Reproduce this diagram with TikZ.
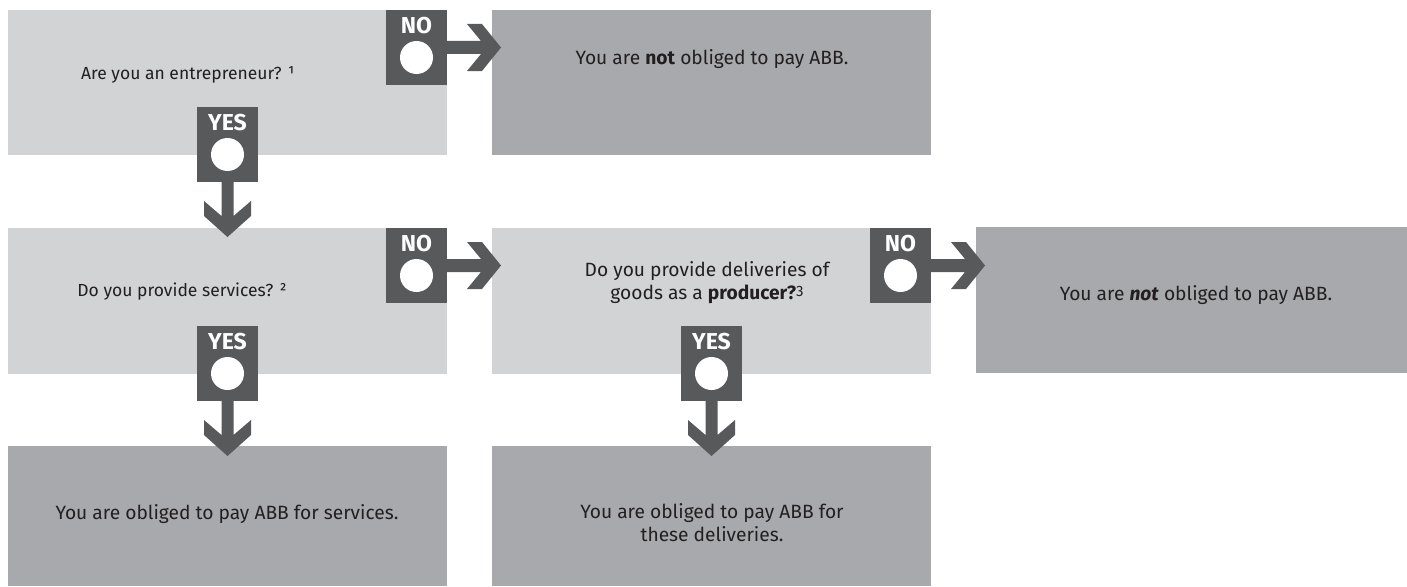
\documentclass[tikz,border=0pt]{standalone}
\usepackage{fontspec}
\setmainfont{Fira Sans}
\usetikzlibrary{calc}
\definecolor{boxlight}{HTML}{D1D3D4}
\definecolor{boxdark}{HTML}{A7A9AC}
\definecolor{badgecol}{HTML}{58595B}
\definecolor{txtcol}{HTML}{231F20}
\newcommand{\harrow}[1]{\fill[badgecol, shift={(#1.east)}] (0,6.5) -- (34,6.5) -- (20,23.5) -- (35,23.5) -- (54,0) -- (35,-23.5) -- (20,-23.5) -- (34,-6.5) -- (0,-6.5) -- cycle;}
\newcommand{\varrow}[1]{\fill[badgecol, shift={(#1.south)}] (-6,0) -- (-6,34) -- (-23.5,19) -- (-23.5,34) -- (0,55) -- (23.5,34) -- (23.5,19) -- (6,34) -- (6,0) -- cycle;}
\begin{document}
\begin{tikzpicture}[x=1pt,y=-1pt,
  lbox/.style={fill=boxlight, draw=none, anchor=north west, inner sep=0pt, outer sep=0pt},
  dbox/.style={fill=boxdark, draw=none, anchor=north west, inner sep=0pt, outer sep=0pt},
  badge/.style={fill=badgecol, draw=none, minimum width=61pt, minimum height=75pt, inner sep=0pt, outer sep=0pt},
  btxt/.style={text=white, font=\fontsize{23}{24}\selectfont\bfseries, anchor=base, inner sep=0pt},
  dot/.style={circle, fill=white, draw=none, minimum size=33pt, inner sep=0pt},
  ttxt/.style={text=txtcol, font=\fontsize{19.2}{23}\selectfont, inner sep=0pt, align=center},
  stxt/.style={text=txtcol, font=\fontsize{17.5}{21}\selectfont, inner sep=0pt, align=center}
]
\useasboundingbox (0,0) rectangle (1407,586);
% boxes
\node[lbox, minimum width=439pt, minimum height=145pt] (b1) at (8,10) {};
\node[dbox, minimum width=439pt, minimum height=145pt] (b2) at (492,10) {};
\node[lbox, minimum width=439pt, minimum height=146pt] (b3) at (8,228) {};
\node[lbox, minimum width=439pt, minimum height=146pt] (b4) at (492,228) {};
\node[dbox, minimum width=431pt, minimum height=146pt] (b5) at (976,227) {};
\node[dbox, minimum width=439pt, minimum height=140pt] (b6) at (8,446) {};
\node[dbox, minimum width=439pt, minimum height=140pt] (b7) at (492,446) {};
% texts
\node[stxt, anchor=base] (t1) at (188,79) {Are you an entrepreneur? ¹};
\node[ttxt, anchor=base] (t2) at (712,65) {You are \textbf{not} obliged to pay ABB.};
\node[stxt, anchor=base] (t3) at (182,296) {Do you provide services? ²};
\node[ttxt] (t4) at (707,283) {Do you provide deliveries of\\goods as a \textbf{producer?}{\fontsize{15}{15}\selectfont\raisebox{3.5pt}{3}}};
\node[ttxt, anchor=base] (t5) at (1196,300) {You are \textbf{\textit{not}} obliged to pay ABB.};
\node[ttxt, anchor=base] (t6) at (227,519) {You are obliged to pay ABB for services.};
\node[ttxt] (t7) at (712,523) {You are obliged to pay ABB for\\these deliveries.};
% badges
\node[badge, anchor=north east] (no1) at (b1.north east) {};
\node[badge, anchor=north east] (no3) at (b3.north east) {};
\node[badge, anchor=north east] (no4) at (b4.north east) {};
\node[badge, anchor=north] (yes1) at ([yshift=-97pt]b1.north) {};
\node[badge, anchor=north] (yes3) at ([yshift=-98pt]b3.north) {};
\node[badge, anchor=north] (yes4) at ([yshift=-98pt]b4.north) {};
\foreach \b/\t in {no1/NO,no3/NO,no4/NO,yes1/YES,yes3/YES,yes4/YES}{
  \node[btxt] (\b-t) at ([yshift=-23.5pt]\b.north) {\t};
  \node[dot] (\b-c) at ([yshift=-47.5pt]\b.north) {};
}
% connectors
\harrow{no1}
\harrow{no3}
\harrow{no4}
\varrow{yes1}
\varrow{yes3}
\varrow{yes4}
\end{tikzpicture}
\end{document}
